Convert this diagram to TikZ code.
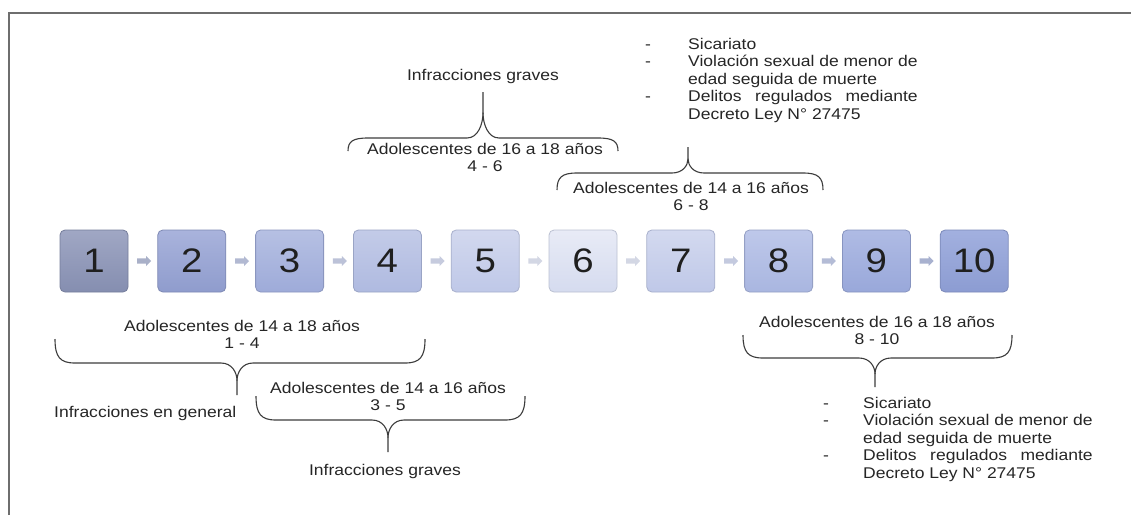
\documentclass[tikz,border=0pt]{standalone}
\usepackage{fontspec}
\setmainfont{Liberation Sans}[FakeStretch=1.13]
\usetikzlibrary{shapes.arrows,calc}
\definecolor{txt}{HTML}{262626}
\definecolor{framec}{HTML}{6E6E6E}
\definecolor{bracec}{HTML}{3C3C3C}
\definecolor{c1t}{HTML}{A0A7C4}\definecolor{c1b}{HTML}{858EB0}
\definecolor{c2t}{HTML}{A9B3DC}\definecolor{c2b}{HTML}{8F9CCD}
\definecolor{c3t}{HTML}{B6C0E3}\definecolor{c3b}{HTML}{9EABD9}
\definecolor{c4t}{HTML}{C3CBE8}\definecolor{c4b}{HTML}{AFBAE0}
\definecolor{c5t}{HTML}{D2D8EE}\definecolor{c5b}{HTML}{BFC8E8}
\definecolor{c6t}{HTML}{E8EBF6}\definecolor{c6b}{HTML}{D5DBEF}
\definecolor{c7t}{HTML}{D3D9EF}\definecolor{c7b}{HTML}{BFC8E8}
\definecolor{c8t}{HTML}{BEC8EA}\definecolor{c8b}{HTML}{A9B6E0}
\definecolor{c9t}{HTML}{AFBBE4}\definecolor{c9b}{HTML}{99A8DA}
\definecolor{c10t}{HTML}{A2B0DF}\definecolor{c10b}{HTML}{8C9CD2}
\definecolor{a1}{HTML}{A9B0C8}\definecolor{a2}{HTML}{B2B9D2}
\definecolor{a3}{HTML}{BCC2D8}\definecolor{a4}{HTML}{C6CBDE}
\definecolor{a5}{HTML}{D3D7E4}\definecolor{a6}{HTML}{D3D7E4}
\definecolor{a7}{HTML}{C4CADF}\definecolor{a8}{HTML}{B4BCD6}
\definecolor{a9}{HTML}{A8B1CF}
\newsavebox\vslbox
\newcommand\drawbrace[6]{%
  \pgfmathsetmacro\bA{#4+0.75*(#5-#4)}%
  \pgfmathsetmacro\bM{#5+0.55*(#6-#5)}%
  \pgfmathsetmacro\bC{#5+0.3*(#6-#5)}%
  \draw[bracest] (#1,#4) .. controls (#1,\bA) and (#1+5,#5) .. (#1+20,#5)
     -- (#3-16,#5) .. controls (#3-5,#5) and (#3,\bC) .. (#3,\bM) -- (#3,#6);
  \draw[bracest] (#2,#4) .. controls (#2,\bA) and (#2-5,#5) .. (#2-20,#5)
     -- (#3+16,#5) .. controls (#3+5,#5) and (#3,\bC) .. (#3,\bM);
}
\begin{document}
\sbox\vslbox{\fontsize{15.5}{17.5}\selectfont Violación sexual de menor de}%
\begin{tikzpicture}[x=1pt,y=-1pt,
  numbox/.style 2 args={draw=#2!88!black, top color=#1, bottom color=#2,
    rounded corners=5pt, minimum width=68pt, minimum height=62pt, inner sep=0pt,
    line width=0.8pt, font=\fontsize{34}{34}\selectfont, text=black!88},
  arr/.style={single arrow, draw=none, fill=#1, minimum height=14pt,
    inner sep=2.4pt, single arrow head extend=2.4pt, shape border rotate=0},
  lbl/.style={font=\fontsize{15.5}{17.5}\selectfont, text=txt, inner sep=0pt},
  bracest/.style={draw=bracec, line width=1.1pt},
  framest/.style={draw=framec, line width=1.5pt}]
\useasboundingbox (0,0) rectangle (1131,515);
\fill[white] (0,0) rectangle (1131,515);
% frame
\draw[framest] (9,515) -- (9,13) -- (1131,13);
% boxes
\foreach \i in {1,...,10}{
  \pgfmathsetmacro\bx{94+97.8*(\i-1)}
  \node[numbox={c\i t}{c\i b}] (b\i) at (\bx,261) {\i};
}
% arrows between boxes
\foreach \i [evaluate=\i as \j using int(\i+1)] in {1,...,9}{
  \node[arr=a\i] (ar\i) at ($(b\i.east)!0.5!(b\j.west)$) {};
}
% top part
\node[lbl, anchor=north] (t1) at (483,69) {Infracciones graves};
\drawbrace{348}{618}{483}{151}{138}{92}
\node[lbl, anchor=north, align=center] (t2) at (485,143) {Adolescentes de 16 a 18 años\\4 - 6};
\drawbrace{557}{823}{688}{190}{173}{147}
\node[lbl, anchor=north, align=center] (t3) at (691,182) {Adolescentes de 14 a 16 años\\6 - 8};
\node[lbl, anchor=north west, align=left] (l1) at (688,38)
  {Sicariato\\Violación sexual de menor de\\edad seguida de muerte\\\hbox to \wd\vslbox{Delitos\hfill regulados\hfill mediante}\\Decreto Ley N° 27475};
\node[lbl, anchor=north, align=center] (d1) at (648,38) {\vphantom{S}-\\-\\\mbox{}\\-};
% bottom left
\node[lbl, anchor=north, align=center] (t4) at (242,320) {Adolescentes de 14 a 18 años\\1 - 4};
\drawbrace{55}{425}{237}{339}{363}{395}
\node[lbl, anchor=north west] (t5) at (54,406) {Infracciones en general};
\node[lbl, anchor=north, align=center] (t6) at (388,382) {Adolescentes de 14 a 16 años\\3 - 5};
\drawbrace{256}{525}{388}{396}{420}{452}
\node[lbl, anchor=north] (t7) at (385,464) {Infracciones graves};
% bottom right
\node[lbl, anchor=north, align=center] (t8) at (877,316) {Adolescentes de 16 a 18 años\\8 - 10};
\drawbrace{743}{1012}{875}{335}{358}{387}
\node[lbl, anchor=north west, align=left] (l2) at (863,397)
  {Sicariato\\Violación sexual de menor de\\edad seguida de muerte\\\hbox to \wd\vslbox{Delitos\hfill regulados\hfill mediante}\\Decreto Ley N° 27475};
\node[lbl, anchor=north, align=center] (d2) at (826,397) {\vphantom{S}-\\-\\\mbox{}\\-};
\end{tikzpicture}
\end{document}
